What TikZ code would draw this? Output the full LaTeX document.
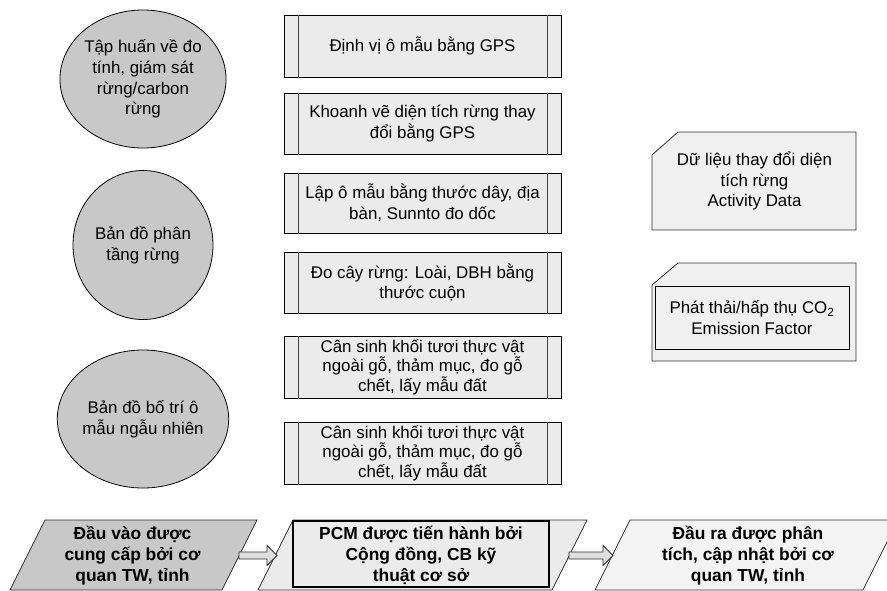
\documentclass[tikz,border=0pt]{standalone}
\usepackage{fontspec}
\setmainfont{Liberation Sans}
\usetikzlibrary{shapes.geometric,calc}
\definecolor{circfill}{HTML}{C8C8C8}
\definecolor{boxfill}{HTML}{EBEBEB}
\definecolor{cardfill}{HTML}{F0F0F0}
\definecolor{parone}{HTML}{C8C8C8}
\definecolor{partwo}{HTML}{EBEBEB}
\definecolor{parthree}{HTML}{F3F3F3}
\definecolor{edge}{HTML}{303030}
\begin{document}
\begin{tikzpicture}[x=1pt,y=-1pt,
  txt/.style={font=\fontsize{16.9}{20.7}\selectfont, align=center, inner sep=0pt},
  btxt/.style={font=\bfseries\fontsize{17.4}{21}\selectfont, align=center, inner sep=0pt},
  circnode/.style={ellipse, draw=black, line width=0.8pt, fill=circfill, inner sep=0pt,
     minimum width=140pt, font=\fontsize{16.9}{20.7}\selectfont, align=center},
  procbox/.style={rectangle, draw=black, line width=1pt, fill=boxfill, minimum width=277pt,
     inner sep=0pt, font=\fontsize{16.9}{20.7}\selectfont, align=center},
  procline/.style={draw=gray!50!black, line width=0.9pt},
  cardshape/.style={draw=edge, line width=0.8pt, fill=cardfill},
  parshape/.style={draw=edge, line width=0.8pt},
  blockarrow/.style={draw=edge, line width=0.9pt, fill=gray!25}
]
\useasboundingbox (0,0) rectangle (887,590);
\clip (0,0) rectangle (887,590);

% circles
\node[circnode, minimum height=138pt] (c1) at (143,79) {Tập huấn về đo\\tính, giám sát\\rừng/carbon\\rừng};
\node[circnode, minimum height=149pt] (c2) at (143,245) {Bản đồ phân\\tầng rừng};
\node[circnode, minimum height=138pt] (c3) at (143,419) {Bản đồ bố trí ô\\mẫu ngẫu nhiên};

% process boxes
\node[procbox, minimum height=62pt] (b1) at (422.5,46) {Định vị ô mẫu bằng GPS};
\node[procbox, minimum height=61pt] (b2) at (422.5,123.5) {Khoanh vẽ diện tích rừng thay\\đổi bằng GPS};
\node[procbox, minimum height=60pt] (b3) at (422.5,203) {Lập ô mẫu bằng thước dây, địa\\bàn, Sunnto đo dốc};
\node[procbox, minimum height=61pt] (b4) at (422.5,282.5) {Đo cây rừng: Loài, DBH bằng\\thước cuộn};
\node[procbox, minimum height=62pt, font=\fontsize{16.9}{19.5}\selectfont] (b5) at (422.5,367) {Cân sinh khối tươi thực vật\\ngoài gỗ, thảm mục, đo gỗ\\chết, lấy mẫu đất};
\node[procbox, minimum height=62pt, font=\fontsize{16.9}{19.5}\selectfont] (b6) at (422.5,453) {Cân sinh khối tươi thực vật\\ngoài gỗ, thảm mục, đo gỗ\\chết, lấy mẫu đất};
\foreach \b in {b1,b2,b3,b4,b5,b6}{
  \draw[procline] ([xshift=15pt]\b.north west) -- ([xshift=15pt]\b.south west);
  \draw[procline] ([xshift=-14pt]\b.north east) -- ([xshift=-14pt]\b.south east);
}

% card shapes
\draw[cardshape] (652,155) -- (678,132) -- (856,132) -- (856,230) -- (652,230) -- cycle;
\node[txt] (ca) at (754.5,181) {Dữ liệu thay đổi diện\\tích rừng\\Activity Data};
\draw[cardshape] (652,285) -- (678,263) -- (856,263) -- (856,361) -- (652,361) -- cycle;
\draw[draw=black, line width=1pt, fill=cardfill] (655,286) rectangle (849,349);
\node[txt] (cb) at (752,317.5) {Phát thải/hấp thụ CO\textsubscript{2}\\Emission Factor};

% parallelograms
\draw[parshape, fill=parone] (45,520) -- (257,520) -- (222,590) -- (10,590) -- cycle;
\draw[parshape, fill=partwo] (293,520) -- (587,520) -- (552,590) -- (258,590) -- cycle;
\draw[draw=black, line width=1.2pt, fill=partwo] (293,521) rectangle (549,587);
\draw[parshape, fill=parthree] (630,520) -- (898,520) -- (863,590) -- (595,590) -- cycle;

\node[btxt] (p1) at (132.5,556) {Đầu vào được\\cung cấp bởi cơ\\quan TW, tỉnh};
\node[btxt] (p2) at (421,555) {PCM được tiến hành bởi\\Cộng đồng, CB kỹ\\thuật cơ sở};
\node[btxt] (p3) at (748,556) {Đầu ra được phân\\tích, cập nhật bởi cơ\\quan TW, tỉnh};

% block arrows
\coordinate (a1s) at (239,555.5);
\coordinate (a1e) at (277,555.5);
\coordinate (a2s) at (569,555.5);
\coordinate (a2e) at (613,555.5);
\foreach \s/\e in {a1s/a1e,a2s/a2e}{
  \draw[blockarrow] ($(\s)+(0,-3.5)$) -- ($(\e)+(-10,-3.5)$) -- ($(\e)+(-10,-10)$) -- (\e)
     -- ($(\e)+(-10,10)$) -- ($(\e)+(-10,3.5)$) -- ($(\s)+(0,3.5)$) -- cycle;
}
\end{tikzpicture}
\end{document}
